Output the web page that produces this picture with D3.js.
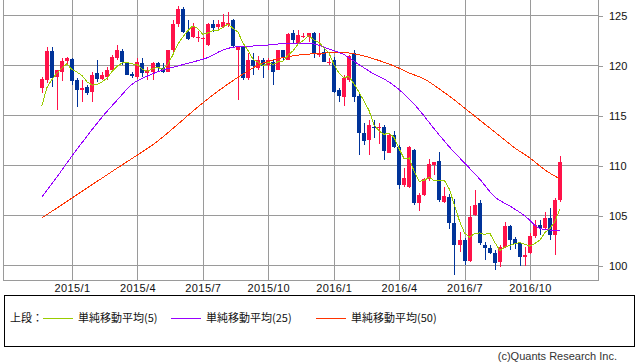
<!DOCTYPE html>
<html>
<head>
<meta charset="utf-8">
<script src="https://cdn.jsdelivr.net/npm/d3@7"></script>
<style>
body { margin: 0; background: #fff; }
svg { display: block; font-family: "Liberation Sans", Arial, sans-serif; }
</style>
</head>
<body>
<svg id="chart" width="638" height="362"></svg>
<script>
const width = 638;
const height = 362;

// weekly bars, week of 2014/11/24 .. week of 2016/11/14
const opens = [117.7, 118.5, 121.4, 118.85, 119.35, 120.4, 120.6, 118.5, 117.55, 117.85,
  117.35, 119.15, 118.6, 118.85, 119.5, 120.7, 121.4, 120.3, 119.1, 118.85,
  120.2, 119.15, 119.35, 120.2, 119.75, 119.35, 121.5, 124.1, 125.6, 123.35,
  122.75, 122.7, 122.6, 122.0, 124.1, 123.85, 123.85, 124.0, 124.45, 121.55,
  121.75, 118.65, 120.55, 119.75, 120.5, 120.0, 120.25, 119.5, 121.45, 120.55,
  123.15, 122.15, 122.8, 122.85, 123.15, 121.0, 121.35, 120.2, 120.5, 117.45,
  116.85, 118.45, 121.15, 116.9, 113.25, 112.5, 113.85, 113.75, 113.85, 111.25,
  113.05, 111.85, 108.0, 107.85, 111.5, 106.15, 107.05, 108.6, 110.05, 110.4,
  106.35, 106.85, 104.2, 102.0, 102.5, 100.45, 105.0, 106.25, 102.05, 101.75,
  101.25, 100.3, 101.85, 103.9, 102.6, 102.15, 100.85, 101.15, 102.9, 104.0,
  103.65, 104.65, 103.0, 106.45];
const highs = [118.85, 121.75, 121.75, 119.55, 120.7, 120.85, 120.75, 118.65, 118.5, 118.0,
  119.35, 120.5, 119.35, 119.85, 121.0, 122.0, 121.6, 120.35, 119.35, 120.75,
  120.7, 119.85, 120.35, 120.35, 120.15, 121.55, 124.5, 125.9, 125.85, 124.45,
  124.15, 123.4, 122.8, 124.25, 124.5, 124.45, 125.1, 125.35, 124.6, 121.9,
  121.85, 121.2, 121.15, 120.9, 120.65, 120.75, 120.5, 121.55, 121.55, 123.25,
  123.55, 123.5, 123.25, 123.25, 123.35, 123.2, 121.65, 120.65, 120.8, 117.65,
  119.0, 121.0, 121.5, 117.35, 114.25, 114.5, 114.5, 114.25, 114.05, 113.15,
  113.4, 112.0, 109.75, 111.9, 111.6, 107.15, 108.75, 110.6, 110.35, 111.35,
  107.85, 107.1, 106.6, 103.3, 102.65, 105.9, 107.45, 106.5, 102.35, 102.05,
  101.5, 102.0, 104.35, 104.0, 102.8, 102.35, 101.85, 103.2, 104.55, 104.45,
  105.35, 105.65, 106.65, 110.9];
const lows = [117.2, 118.2, 117.85, 115.5, 118.4, 120.0, 118.0, 115.75, 116.35, 117.0,
  116.35, 118.35, 118.5, 118.5, 119.35, 120.5, 120.0, 119.0, 118.65, 118.6,
  118.8, 118.45, 118.45, 119.35, 119.2, 119.25, 121.35, 123.85, 123.15, 122.45,
  122.65, 122.3, 120.5, 121.9, 123.35, 123.5, 123.65, 123.85, 121.85, 116.5,
  118.5, 118.55, 119.0, 119.5, 118.65, 119.55, 118.0, 119.45, 120.45, 120.5,
  122.15, 122.1, 122.65, 122.35, 120.75, 120.85, 120.25, 120.05, 117.25, 116.35,
  115.9, 118.35, 116.35, 111.0, 112.0, 111.0, 112.65, 112.1, 110.5, 111.15,
  111.65, 107.6, 107.85, 107.7, 106.05, 105.4, 106.95, 108.4, 109.0, 106.35,
  106.25, 103.6, 99.0, 101.35, 100.0, 100.35, 104.9, 102.0, 100.5, 101.1,
  99.5, 99.8, 101.75, 101.5, 101.6, 99.9, 99.9, 101.1, 102.7, 103.0,
  103.5, 102.5, 101.0, 106.35];
const closes = [118.6, 121.4, 118.7, 119.5, 120.4, 120.65, 118.4, 117.5, 117.75, 117.25,
  119.05, 118.6, 119.0, 119.5, 120.8, 121.5, 120.3, 119.05, 118.9, 120.35,
  119.2, 119.45, 120.2, 119.7, 119.35, 121.5, 124.1, 125.6, 123.35, 122.6,
  123.85, 122.8, 122.7, 124.1, 123.65, 124.1, 124.35, 124.25, 121.9, 121.75,
  118.65, 120.55, 119.9, 120.55, 119.9, 120.5, 119.35, 121.5, 120.75, 123.1,
  122.55, 122.95, 122.9, 123.15, 121.15, 121.25, 120.35, 120.35, 117.35, 116.9,
  118.75, 120.9, 116.85, 113.2, 112.4, 114.0, 113.65, 113.85, 111.4, 113.05,
  111.85, 108.0, 108.75, 111.85, 106.15, 107.05, 108.6, 110.1, 110.25, 106.45,
  106.9, 104.15, 102.0, 102.5, 100.45, 104.85, 106.0, 102.2, 101.75, 101.2,
  100.25, 101.85, 103.9, 102.55, 102.1, 100.85, 101.0, 102.9, 104.0, 103.75,
  104.65, 103.0, 106.55, 110.35];
// closes of the 4 weeks before the first bar (needed by the 5 week average)
const priorCloses = [112.3, 114.6, 116.3, 117.7];

// 25 / 50 week averages: [bar index, value]
const ma25 = [[0, 106.8], [3, 108.8], [6, 110.9], [9, 112.9], [12, 114.8], [15, 116.5],
  [18, 118.1], [21, 118.9], [24, 119.5], [27, 119.9], [30, 120.3], [33, 120.75],
  [36, 121.5], [39, 121.85], [42, 121.9], [45, 122.0], [48, 122.15], [51, 122.2],
  [54, 122.1], [57, 121.6], [60, 121.05], [63, 120.05], [66, 119.1], [69, 118.3],
  [72, 117.1], [75, 115.5], [78, 113.6], [81, 111.8], [84, 110.2], [87, 108.6],
  [90, 106.8], [93, 105.9], [96, 104.9], [99, 103.65], [101, 103.5], [103, 103.5]];
const ma50 = [[0, 104.7], [3, 105.7], [6, 106.7], [9, 107.7], [12, 108.7], [15, 109.7],
  [19, 111.0], [22, 112.0], [25, 113.2], [28, 114.5], [31, 115.8], [34, 117.0],
  [37, 118.1], [40, 119.1], [43, 120.0], [46, 120.5], [49, 120.85], [52, 121.05],
  [55, 121.15], [58, 121.25], [61, 121.2], [64, 120.9], [67, 120.45], [70, 119.9],
  [73, 119.2], [76, 118.6], [79, 117.6], [82, 116.5], [85, 115.3], [88, 114.1],
  [91, 112.9], [94, 111.7], [97, 110.7], [100, 109.5], [103, 108.6]];

const tickWeeks = [6, 19, 32, 45, 58, 71, 84, 97];
const tickLabels = ["2015/1", "2015/4", "2015/7", "2015/10", "2016/1", "2016/4", "2016/7", "2016/10"];
const priceTicks = [100, 105, 110, 115, 120, 125];
const legendItems = ["単純移動平均(5)", "単純移動平均(25)", "単純移動平均(50)"];

const colors = {
  up: "#ff1249",
  down: "#003399",
  ma5: "#99cc00",
  ma25: "#9900ff",
  ma50: "#ff3300",
  grid: "#9a9a9a"
};

const x = d3.scaleLinear().domain([-7.71, 110.52]).range([3, 598]);
const y = d3.scaleLinear().domain([98.5, 126.5]).range([280, 0]);

const svg = d3.select("#chart");

// grid
const grid = svg.append("g")
  .attr("stroke", colors.grid)
  .attr("shape-rendering", "crispEdges");
grid.selectAll(".h").data(priceTicks).enter().append("line")
  .attr("x1", 3).attr("x2", 598)
  .attr("y1", d => Math.round(y(d)) + 0.5).attr("y2", d => Math.round(y(d)) + 0.5);
grid.selectAll(".v").data(tickWeeks).enter().append("line")
  .attr("x1", d => Math.round(x(d)) + 0.5).attr("x2", d => Math.round(x(d)) + 0.5)
  .attr("y1", 0).attr("y2", 280);
// frame
grid.append("path")
  .attr("fill", "none")
  .attr("d", "M3.5,0V280.5H598.5V0");

// axes
svg.append("g")
  .attr("transform", "translate(0,280)")
  .call(d3.axisBottom(x).tickValues(tickWeeks).tickFormat((d, i) => tickLabels[i]).tickSize(0).tickPadding(4))
  .call(g => g.select(".domain").remove())
  .call(g => g.selectAll("text").attr("font-size", 11).attr("font-family", "Liberation Sans")
    .attr("letter-spacing", 0.4).attr("fill", "#111"));

svg.append("g")
  .attr("transform", "translate(598,0.5)")
  .call(d3.axisRight(y).tickValues(priceTicks).tickSize(5).tickPadding(6))
  .call(g => g.select(".domain").remove())
  .call(g => g.selectAll("line").attr("stroke", colors.grid).attr("shape-rendering", "crispEdges"))
  .call(g => g.selectAll("text").attr("font-size", 11).attr("font-family", "Liberation Sans").attr("fill", "#111"));

// candles
const bars = closes.map((c, i) => ({ i, o: opens[i], h: highs[i], l: lows[i], c }));
const candle = svg.append("g").attr("shape-rendering", "crispEdges")
  .selectAll("g").data(bars).enter().append("g")
  .attr("fill", d => d.c >= d.o ? colors.up : colors.down);

candle.append("rect")
  .attr("x", d => Math.round(x(d.i)))
  .attr("width", 1)
  .attr("y", d => Math.round(y(d.h)))
  .attr("height", d => Math.max(1, Math.round(y(d.l)) - Math.round(y(d.h))));

candle.append("rect")
  .attr("x", d => Math.round(x(d.i)) - 2)
  .attr("width", 4)
  .attr("y", d => Math.round(y(Math.max(d.o, d.c))))
  .attr("height", d => Math.max(1, Math.round(y(Math.min(d.o, d.c))) - Math.round(y(Math.max(d.o, d.c)))));

// moving averages
const allCloses = priorCloses.concat(closes);
const ma5 = closes.map((c, i) => [i, d3.mean(allCloses.slice(i, i + 5))]);

const line = d3.line().x(d => x(d[0])).y(d => y(d[1]));
const smooth = d3.line().x(d => x(d[0])).y(d => y(d[1])).curve(d3.curveMonotoneX);

const maLayer = svg.append("g")
  .attr("fill", "none")
  .attr("stroke-width", 1)
  .attr("shape-rendering", "crispEdges");
maLayer.append("path").datum(ma50).attr("stroke", colors.ma50).attr("d", smooth);
maLayer.append("path").datum(ma25).attr("stroke", colors.ma25).attr("d", smooth);
maLayer.append("path").datum(ma5).attr("stroke", colors.ma5).attr("d", line);

// legend
const legend = svg.append("g")
  .attr("font-family", "'Noto Sans CJK JP', sans-serif")
  .attr("font-size", 11)
  .attr("fill", "#111");

legend.append("rect")
  .attr("x", 4.5).attr("y", 295.5)
  .attr("width", 630).attr("height", 51)
  .attr("fill", "none").attr("stroke", "#000");

legend.append("text").attr("x", 10).attr("y", 322).text("上段：");

const itemX = [43, 171, 316];
const itemColors = [colors.ma5, colors.ma25, colors.ma50];
const item = legend.selectAll(".item").data(legendItems).enter().append("g")
  .attr("transform", (d, i) => `translate(${itemX[i]},0)`);
item.append("line")
  .attr("x1", 0).attr("x2", 30)
  .attr("y1", 318.5).attr("y2", 318.5)
  .attr("stroke", (d, i) => itemColors[i]);
item.append("text")
  .attr("x", 35).attr("y", 322)
  .text(d => d);

svg.append("text")
  .attr("x", 617).attr("y", 360)
  .attr("text-anchor", "end")
  .attr("font-size", 11)
  .attr("fill", "#333")
  .text("(c)Quants Research Inc.");
</script>
</body>
</html>
